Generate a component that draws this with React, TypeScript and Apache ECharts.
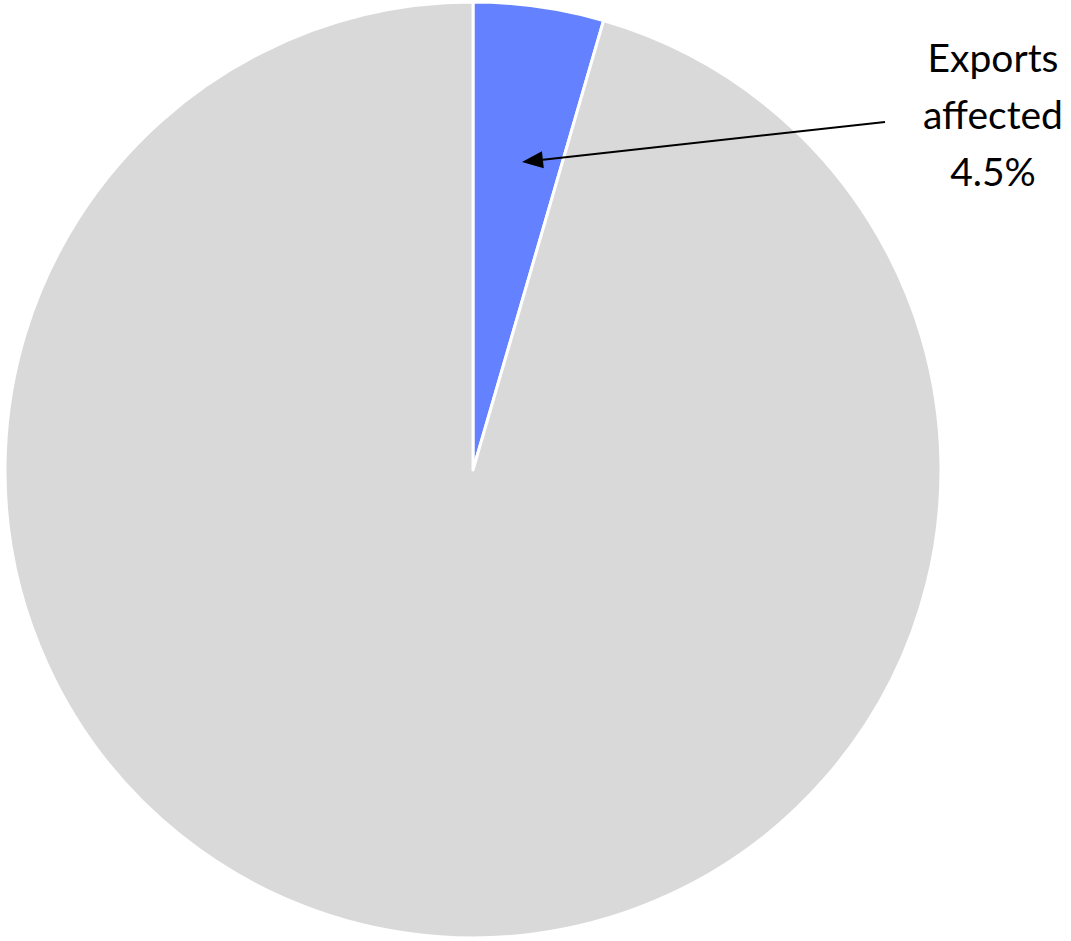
import React, { useEffect, useRef } from "react";
import * as echarts from "echarts";

const categories = ["Exports affected", "Other exports"];
const values = [4.5, 95.5];
const colors = ["#6482FF", "#D9D9D9"];
const labelLines = ["Exports", "affected", "4.5%"];

export default function App() {
  const ref = useRef<HTMLDivElement>(null);
  useEffect(() => {
    if (!ref.current) return;
    const chart = echarts.init(ref.current, undefined, { renderer: "svg" });
    const tip = [522, 162];
    const start = [885, 122];
    const dx = tip[0] - start[0];
    const dy = tip[1] - start[1];
    const len = Math.sqrt(dx * dx + dy * dy);
    const ux = dx / len, uy = dy / len;
    const hl = 21, hw = 8.5;
    const bx = tip[0] - ux * hl, by = tip[1] - uy * hl;
    const px = -uy * hw, py = ux * hw;
    chart.setOption({
      animation: false,
      backgroundColor: "#ffffff",
      series: [
        {
          type: "pie",
          center: [473, 470],
          radius: 468,
          startAngle: 90,
          clockwise: true,
          label: { show: false },
          labelLine: { show: false },
          itemStyle: { borderColor: "#ffffff", borderWidth: 3 },
          emphasis: { disabled: true },
          data: categories.map((c, i) => ({ name: c, value: values[i], itemStyle: { color: colors[i] } })),
        },
      ],
      graphic: {
        elements: [
          {
            type: "line",
            z: 100,
            shape: { x1: start[0], y1: start[1], x2: bx, y2: by },
            style: { stroke: "#000000", lineWidth: 2 },
          },
          {
            type: "polygon",
            z: 100,
            shape: { points: [[tip[0], tip[1]], [bx + px, by + py], [bx - px, by - py]] },
            style: { fill: "#000000" },
          },
          {
            type: "text",
            z: 100,
            x: 993,
            y: 114,
            style: {
              text: labelLines.join("\n"),
              fill: "#000000",
              font: '39px Lato, "Open Sans", sans-serif',
              lineHeight: 57,
              align: "center",
              verticalAlign: "middle",
            },
          },
        ],
      },
    });
    return () => chart.dispose();
  }, []);
  return <div ref={ref} style={{ position: "fixed", left: 0, top: 0, width: 1071, height: 941 }} />;
}
